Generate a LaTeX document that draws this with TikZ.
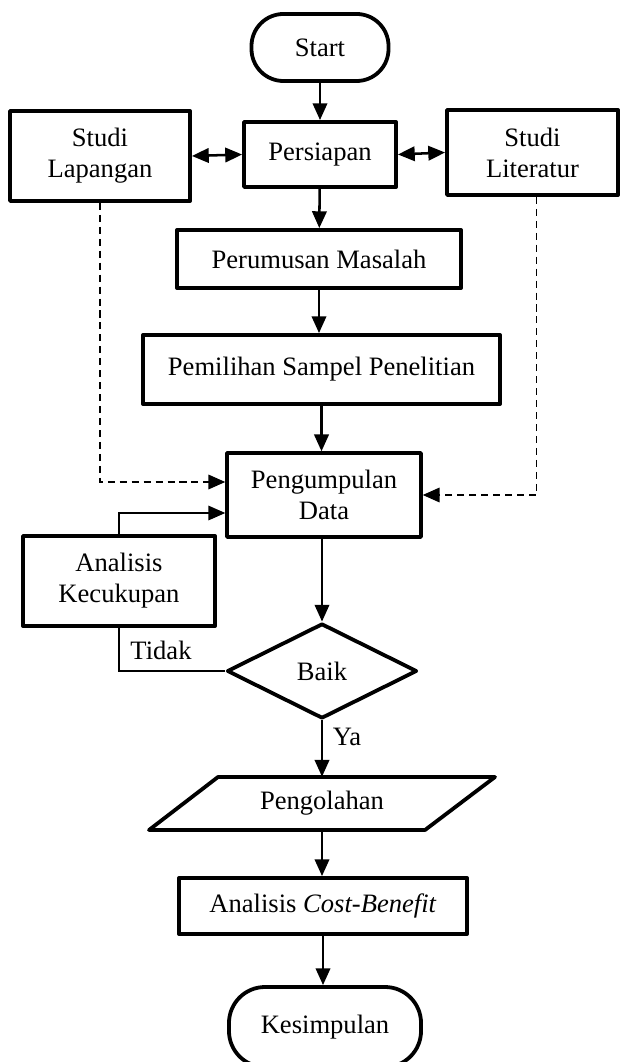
\documentclass[tikz,border=0pt]{standalone}
\usepackage{fontspec}
\setmainfont{Liberation Serif}
\usetikzlibrary{arrows.meta,shapes.geometric}

\begin{document}
\begin{tikzpicture}[x=0.025cm, y=-0.025cm,
    font=\fontsize{18.9}{22}\selectfont,
    box/.style={draw, line width=2.7pt, line join=round, align=center, inner sep=0pt},
    terminal/.style={box, rounded corners=0.8cm},
    flow/.style={line width=1.8pt, -{Triangle[length=0.42cm, width=0.36cm]}},
    twoway/.style={line width=1.8pt, {Triangle[length=0.42cm, width=0.36cm]}-{Triangle[length=0.42cm, width=0.36cm]}},
    thinflow/.style={line width=1.1pt, -{Triangle[length=0.42cm, width=0.36cm]}},
    thinline/.style={line width=1.1pt},
    feed/.style={line width=1.4pt, dash pattern=on 5pt off 3.5pt, -{Triangle[length=0.42cm, width=0.36cm]}}]
    \useasboundingbox (0,0) rectangle (619,1062);

    % top row
    \node[terminal, minimum width=3.425cm, minimum height=1.675cm] (start) at (320,47.5) {Start};
    \node[box, minimum width=3.8cm, minimum height=1.625cm] (persiapan) at (320,154.5) {Persiapan};
    \node[box, minimum width=4.5cm, minimum height=2.25cm] (lapangan) at (100,156) {Studi\\Lapangan};
    \node[box, minimum width=4.275cm, minimum height=2.125cm] (literatur) at (532.5,152.5) {Studi\\Literatur};

    \draw[flow] (start) -- (persiapan);
    \draw[twoway] (lapangan.east) -- (persiapan.west);
    \draw[twoway] (persiapan.east) -- (literatur.west);

    % main column
    \node[box, minimum width=7.1cm, minimum height=1.45cm] (rumusan) at (319,259) {Perumusan Masalah};
    \node[box, minimum width=8.925cm, minimum height=1.725cm] (sampel) at (321.5,369.5) {Pemilihan Sampel Penelitian};
    \node[box, line width=2.4pt, minimum width=4.85cm, minimum height=2.1cm] (kumpul) at (324,495) {Pengumpulan\\Data};
    \node[box, minimum width=4.8cm, minimum height=2.25cm] (cukup) at (119,581) {Analisis\\Kecukupan};
    \node[box, shape=diamond, minimum width=4.75cm, minimum height=2.375cm] (baik) at (322,671) {Baik};

    \draw[flow] (persiapan) -- (rumusan);
    \draw[flow] (rumusan.south) -- (rumusan.south |- sampel.north);
    \draw[flow] (sampel.south) -- (sampel.south |- kumpul.north);
    \draw[feed] (lapangan.south) |- ([yshift=0.325cm]kumpul.west);
    \draw[feed] ([xshift=0.1cm]literatur.south) |- (kumpul.east);
    \draw[thinflow] (cukup.north) |- ([yshift=-0.45cm]kumpul.west);
    \draw[flow] (kumpul.south -| baik.north) -- (baik.north);

    % decision
    \draw[thinline] (baik.west) -| (cukup.south);
    \node (tidak) at (161,650) {Tidak};

    \node[minimum width=6.9cm, minimum height=1.325cm, inner sep=0pt] (olah) at (322,803.5) {Pengolahan};
    \draw[line width=2.7pt, line join=round] (218,777) -- (495,777) -- (425,830) -- (149,830) -- cycle;
    \draw[flow] (baik.south) -- (baik.south |- olah.north);
    \node (ya) at (347,737) {Ya};

    % bottom
    \node[box, minimum width=7.2cm, minimum height=1.4cm] (cb) at (323,906) {Analisis \textit{Cost-Benefit}};
    \node[terminal, rounded corners=0.9cm, minimum width=4.8cm, minimum height=2cm] (simpulan) at (325,1027) {Kesimpulan};

    \draw[flow] (olah.south) -- (olah.south |- cb.north);
    \draw[flow] (cb.south) -- (cb.south |- simpulan.north);
\end{tikzpicture}
\end{document}
